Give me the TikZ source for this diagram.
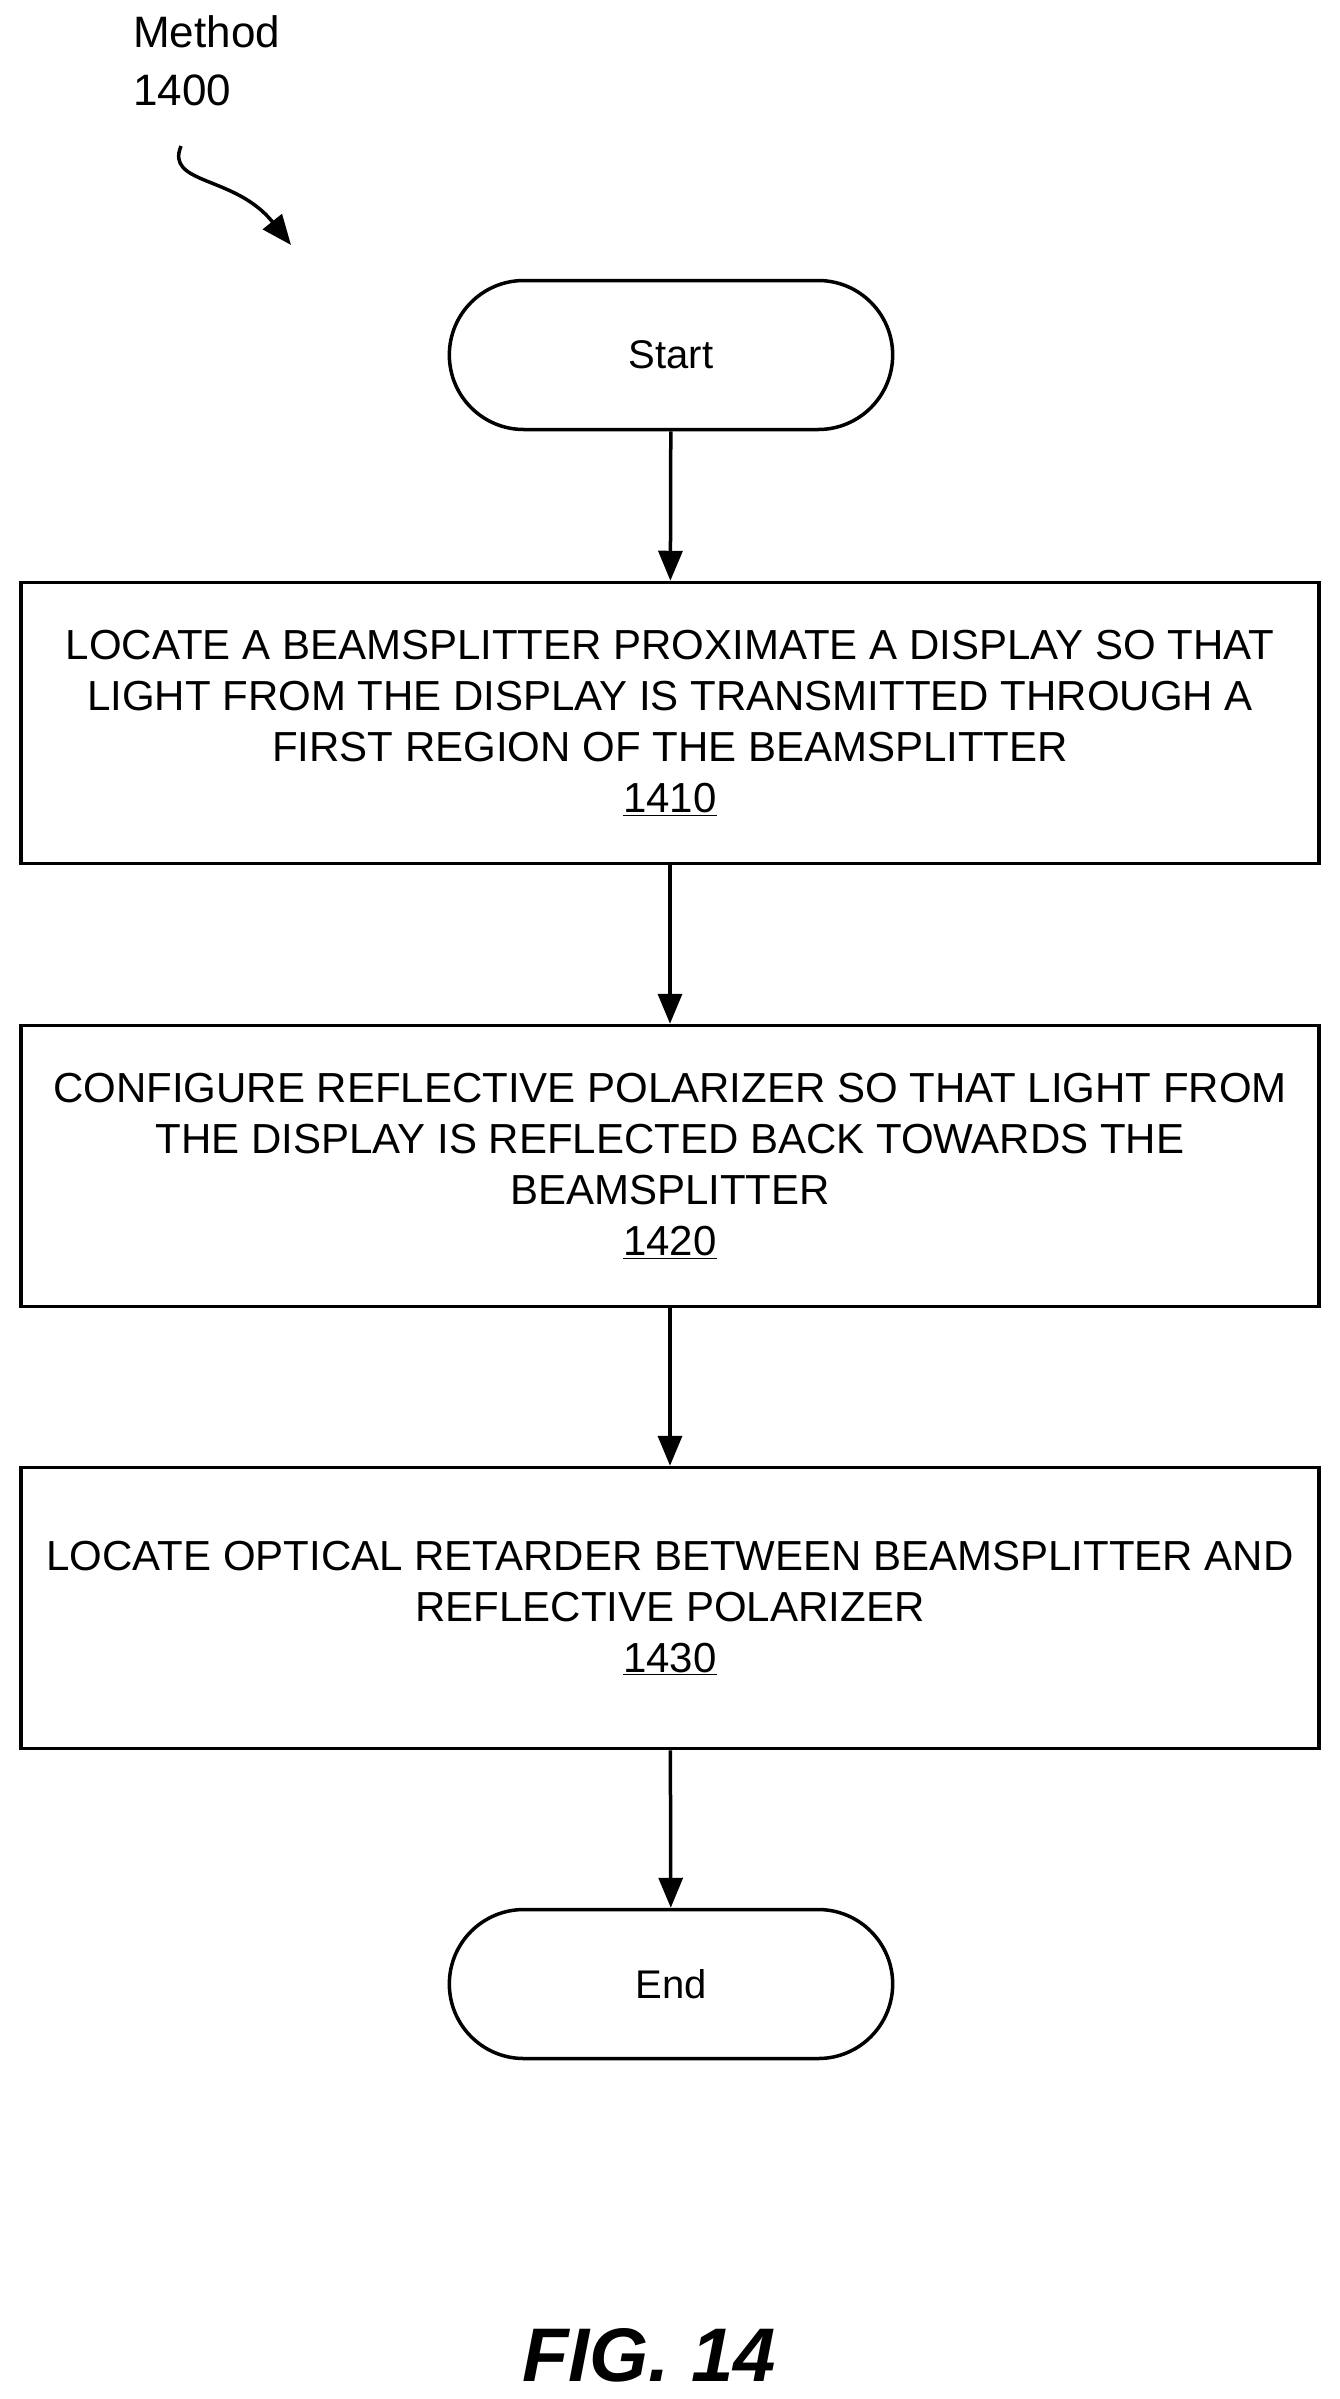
\documentclass[tikz,border=0pt]{standalone}
\usepackage{fontspec}
\setmainfont{Liberation Sans}
\usetikzlibrary{shapes.misc,arrows.meta}
\begin{document}
\begin{tikzpicture}[x=1pt,y=-1pt,
  box/.style={draw,line width=3.5pt,minimum width=1298pt,minimum height=281pt,align=center,inner sep=0pt,font=\fontsize{42}{51}\selectfont},
  term/.style={draw,line width=3.5pt,rounded rectangle,minimum width=450pt,minimum height=149pt,font=\fontsize{40}{45}\selectfont},
  arr/.style={line width=3.5pt,-{Triangle[length=30pt,width=24pt]}}]
\useasboundingbox (0,0) rectangle (1339,2399);
\node[term] (s) at (671,355) {Start};
\node[box] (b1) at (670,723) {LOCATE A BEAMSPLITTER PROXIMATE A DISPLAY SO THAT\\LIGHT FROM THE DISPLAY IS TRANSMITTED THROUGH A\\FIRST REGION OF THE BEAMSPLITTER\\\underline{1410}};
\node[box] (b2) at (670,1166) {CONFIGURE REFLECTIVE POLARIZER SO THAT LIGHT FROM\\THE DISPLAY IS REFLECTED BACK TOWARDS THE\\BEAMSPLITTER\\\underline{1420}};
\node[box] (b3) at (670,1608) {LOCATE OPTICAL RETARDER BETWEEN BEAMSPLITTER AND\\REFLECTIVE POLARIZER\\\underline{1430}};
\node[term] (e) at (671,1984) {End};
\draw[arr] (s) -- (b1);
\draw[arr] (b1) -- (b2);
\draw[arr] (b2) -- (b3);
\draw[arr] (b3) -- (e);
\node[align=left,anchor=north west,font=\fontsize{44}{58}\selectfont,inner sep=0pt] (m) at (133,15) {Method\\1400};
\coordinate (c1) at (181,146);
\coordinate (c2) at (291,245);
\draw[arr] (c1) .. controls (165,185) and (235,175) .. (c2);
\node[font=\fontsize{76}{80}\selectfont\bfseries\itshape] (f) at (649,2355) {FIG. 14};
\end{tikzpicture}
\end{document}
